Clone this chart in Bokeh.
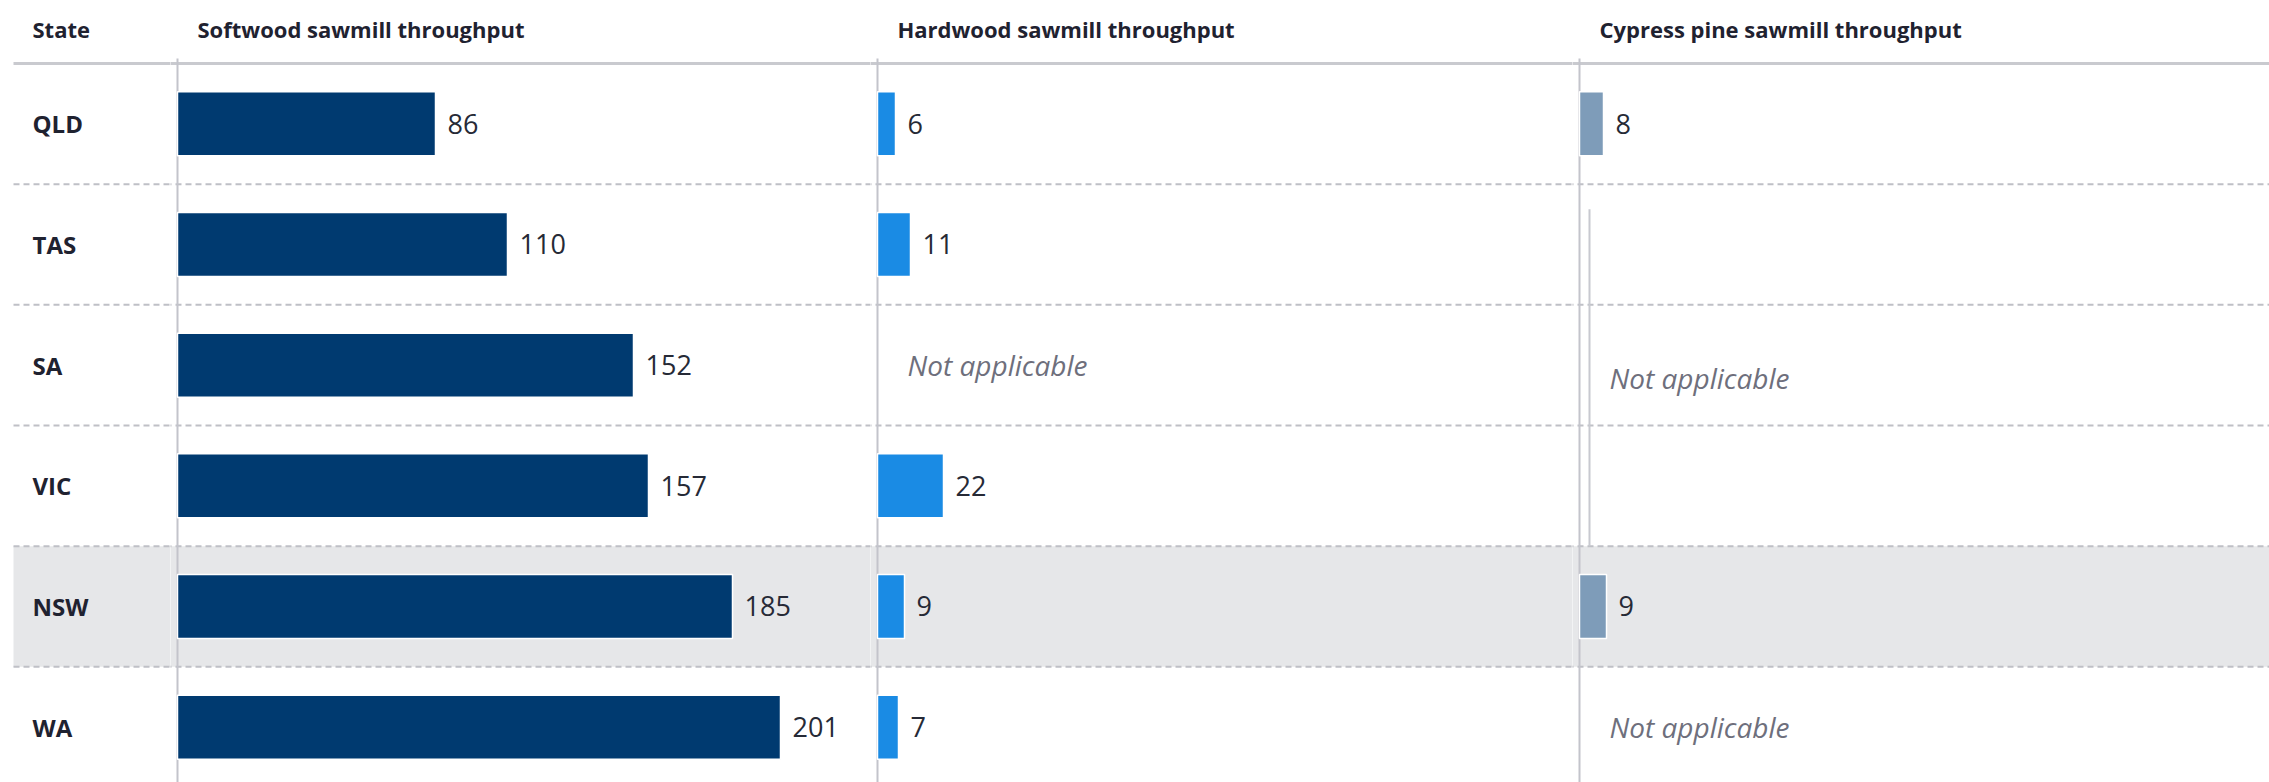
from bokeh.plotting import figure
from bokeh.layouts import row
from bokeh.models import Range1d
from bokeh.core.properties import value
from bokeh.embed import file_html
from bokeh.resources import INLINE

# ---------------- data ----------------
states = ["QLD", "TAS", "SA", "VIC", "NSW", "WA"]
softwood = [86, 110, 152, 157, 185, 201]
hardwood = [6, 11, None, 22, 9, 7]
cypress = [8, None, None, None, 9, None]
state_header = "State"
panel_titles = ["Softwood sawmill throughput", "Hardwood sawmill throughput",
                "Cypress pine sawmill throughput"]
highlight_state = "NSW"
na_label = "Not applicable"

# ---------------- styles ----------------
FONT = value("Open Sans")
TEXT_DARK = "#1f2230"
NA_COLOR = "#6e6f7c"
BAND = "#e6e7e9"
SEP = "#bfc0c6"
AXIS = "#c3c4cb"
HEAD_LINE = "#c9cacf"
bar_colors = ["#003a70", "#1a8be4", "#7e9cb9"]
series = [softwood, hardwood, cypress]

PX_PER_ROW = 120.7
PX_PER_UNIT = 3.0
y_top = -0.5 - 63 / PX_PER_ROW
y_bottom = len(states) - 0.5 - 5 / PX_PER_ROW
H = 782
ys = list(range(len(states)))
hi = states.index(highlight_state)


def base_fig(width, x_start, x_end, band_left):
    p = figure(width=width, height=H, x_range=Range1d(x_start, x_end),
               y_range=Range1d(y_bottom, y_top), toolbar_location=None,
               output_backend="svg", min_border=0)
    p.axis.visible = False
    p.grid.visible = False
    p.outline_line_color = None
    p.background_fill_color = "white"
    p.border_fill_color = "white"
    pad = (x_end - x_start) * 0.05
    # highlighted row band
    p.quad(left=band_left, right=x_end + pad,
           bottom=hi + 0.5, top=hi - 0.5, fill_color=BAND, line_color=None)
    # dashed row separators
    seps = [i + 0.5 for i in range(len(states) - 1)]
    p.segment(x0=[band_left] * len(seps), x1=[x_end + pad] * len(seps), y0=seps, y1=seps,
              line_color=SEP, line_width=2, line_dash="6 4")
    # header rule
    p.segment(x0=[band_left], x1=[x_end + pad], y0=[-0.5], y1=[-0.5],
              line_color=HEAD_LINE, line_width=3)
    return p


# label column (pixel units)
lab = base_fig(170, 0, 170, 13)
lab.text(x=[32], y=[y_top + 28.5 / PX_PER_ROW], text=[state_header],
         text_font=FONT, text_font_style="bold", text_font_size="22px",
         text_color=TEXT_DARK, text_baseline="middle")
lab.text(x=[32] * len(states), y=ys, text=states, text_font=FONT,
         text_font_style="bold", text_font_size="24px", text_color=TEXT_DARK,
         text_baseline="middle")

figs = [lab]
widths = [700, 702, 697]
for k in range(3):
    w = widths[k]
    xs = -7 / PX_PER_UNIT
    xe = xs + w / PX_PER_UNIT
    p = base_fig(w, xs, xe, xs - 5)
    # axis line
    p.segment(x0=[0], x1=[0], y0=[y_top + 58 / PX_PER_ROW], y1=[y_bottom],
              line_color=AXIS, line_width=2)
    # title
    p.text(x=[0], y=[y_top + 28.5 / PX_PER_ROW], text=[panel_titles[k]],
           x_offset=20, text_font=FONT, text_font_style="bold",
           text_font_size="22px", text_color=TEXT_DARK, text_baseline="middle")
    vals = series[k]
    by = [ys[i] for i, v in enumerate(vals) if v is not None]
    bv = [v for v in vals if v is not None]
    p.hbar(y=by, left=0, right=bv, height=0.53, fill_color=bar_colors[k],
           line_color="white", line_width=1.5)
    p.text(x=bv, y=by, text=[str(v) for v in bv], x_offset=12,
           text_font=FONT, text_font_size="27px", text_color="#262a36",
           text_baseline="middle")
    # "Not applicable" runs
    runs = []
    i = 0
    while i < len(vals):
        if vals[i] is None:
            j = i
            while j + 1 < len(vals) and vals[j + 1] is None:
                j += 1
            runs.append((i, j))
            i = j + 1
        else:
            i += 1
    for (a, b) in runs:
        if b > a:
            top = a - 0.5 + 25 / PX_PER_ROW
            bot = b + 0.5
            p.segment(x0=[10 / PX_PER_UNIT], x1=[10 / PX_PER_UNIT], y0=[top], y1=[bot],
                      line_color="#c8c9d0", line_width=2)
            yc = (top + bot) / 2
        else:
            yc = a
        p.text(x=[0], y=[yc], text=[na_label], x_offset=30, text_font=FONT,
               text_font_style="italic", text_font_size="28px", text_color=NA_COLOR,
               text_baseline="middle")
    figs.append(p)

layout = row(*figs, spacing=0)
open("out.html", "w").write(file_html(layout, INLINE))
